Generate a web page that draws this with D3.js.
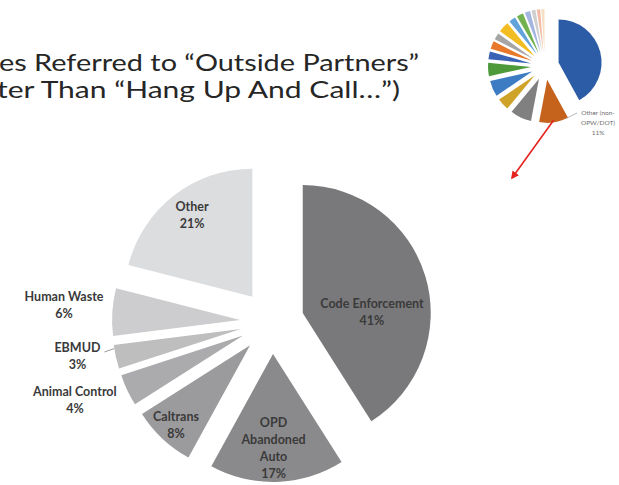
<!DOCTYPE html>
<html>
<head>
<meta charset="utf-8">
<script src="https://cdn.jsdelivr.net/npm/d3@7"></script>
<style>
  html, body { margin: 0; padding: 0; background: #fff; overflow: hidden; }
  svg { display: block; }
</style>
</head>
<body>
<svg id="chart" width="619" height="485"></svg>
<script>
// main pie: where referred cases went
var categories = ["Code Enforcement", "OPD\nAbandoned\nAuto", "Caltrans", "Animal Control", "EBMUD", "Human Waste", "Other"];
var shares = [41, 17, 8, 4, 3, 6, 21];
var greys = ["#79797b", "#8a8a8c", "#9b9b9d", "#ababad", "#bebebf", "#cdcdcf", "#dcdddf"];

// label placement (angle in degrees clockwise from 12 o'clock, distance from pie centre)
var labelAngle = [84.2, 179.3, 222.9, 248.4, 260.1, 274.7, 323.3];
var labelRadius = [100.5, 126, 141, 212, 197.5, 208.7, 133.8];

// small inset pie (top right), all referral types
var insetShares = [42, 11, 8, 4.5, 6, 5, 3, 3, 2.5, 4, 2.5, 2.5, 2, 1.5, 1.3, 1.2];
var insetColors = ["#2d5ca6", "#c5621c", "#808080", "#cfa228", "#3d7cc2", "#4e9a3a", "#3a62b5", "#e8782a",
                   "#a5a5a5", "#f2bd22", "#62a3dc", "#72b24e", "#a3b5e0", "#cfcfcf", "#f3bca6", "#f6dfc4"];
var insetLabel = ["Other (non-", "OPW/DOT)", "11%"];

var titleLines = ["es Referred to \u201cOutside Partners\u201d", "ter Than \u201cHang Up And Call\u2026\u201d)"];

var svg = d3.select("#chart");

// title (cut off at the left edge like the slide)
svg.append("g")
  .selectAll("text")
  .data(titleLines)
  .join("text")
    .attr("x", (d, i) => i == 0 ? -1 : -3)
    .attr("y", (d, i) => 71 + i * 27)
    .attr("textLength", (d, i) => i == 0 ? 420 : 403)
    .attr("lengthAdjust", "spacingAndGlyphs")
    .style("font", "24px Lato, 'Open Sans', sans-serif")
    .style("fill", "#262626")
    .text(d => d);

// ---------- main pie ----------
var cx = 272, cy = 322, radius = 128, explode = 32;
var rad = Math.PI / 180;

var pie = d3.pie().sort(null).value(d => d);
var arcs = pie(shares);
var arc = d3.arc().innerRadius(0).outerRadius(radius);

function offset(a, dist) {
  var mid = (a.startAngle + a.endAngle) / 2;
  return [dist * Math.sin(mid), -dist * Math.cos(mid)];
}

var main = svg.append("g").attr("transform", "translate(" + cx + "," + cy + ")");

main.selectAll("path")
  .data(arcs)
  .join("path")
    .attr("d", arc)
    .attr("fill", (d, i) => greys[i])
    .attr("transform", d => "translate(" + offset(d, explode) + ")");

// leader for EBMUD
var eb = arcs[4];
var ebOff = offset(eb, explode);
var ebAng = eb.startAngle + (eb.endAngle - eb.startAngle) * 0.85;
var ebLabelR = labelRadius[4], ebLabelA = labelAngle[4] * rad;
main.append("line")
  .attr("x1", ebLabelR * Math.sin(ebLabelA) + 27)
  .attr("y1", -ebLabelR * Math.cos(ebLabelA) - 4)
  .attr("x2", ebOff[0] + radius * Math.sin(ebAng))
  .attr("y2", ebOff[1] - radius * Math.cos(ebAng))
  .attr("stroke", "#7f7f7f")
  .attr("stroke-width", 0.8);

var lineH = 17.2;
var labels = main.selectAll("g.lbl")
  .data(arcs)
  .join("g")
    .attr("class", "lbl")
    .attr("transform", (d, i) => "translate(" + (labelRadius[i] * Math.sin(labelAngle[i] * rad)) + "," +
                                  (-labelRadius[i] * Math.cos(labelAngle[i] * rad)) + ")");

labels.each(function(d, i) {
  var lines = categories[i].split("\n").concat([shares[i] + "%"]);
  var y0 = -(lines.length - 1) * lineH / 2 + 4.5;
  d3.select(this).selectAll("text")
    .data(lines)
    .join("text")
      .attr("x", 0)
      .attr("y", (t, j) => y0 + j * lineH)
      .style("font", "bold 12.5px Lato, 'Open Sans', sans-serif")
      .style("fill", "#3a3a3a")
      .style("text-anchor", "middle")
      .text(t => t);
});

// ---------- inset pie ----------
var icx = 545, icy = 66, iradius = 43, iexplode = 14;
var iarcs = pie(insetShares);
var iarc = d3.arc().innerRadius(0).outerRadius(iradius);

var inset = svg.append("g").attr("transform", "translate(" + icx + "," + icy + ")");
inset.selectAll("path")
  .data(iarcs)
  .join("path")
    .attr("d", iarc)
    .attr("fill", (d, i) => insetColors[i])
    .attr("transform", d => "translate(" + offset(d, iexplode) + ")");

// label for the orange slice
var ora = iarcs[1];
var oOff = offset(ora, iexplode);
var oEdge = ora.startAngle + 0.1 * (ora.endAngle - ora.startAngle);
inset.append("line")
  .attr("x1", oOff[0] + iradius * Math.sin(oEdge))
  .attr("y1", oOff[1] - iradius * Math.cos(oEdge))
  .attr("x2", 32)
  .attr("y2", 47)
  .attr("stroke", "#8c8c8c")
  .attr("stroke-width", 0.6);

inset.append("g")
  .selectAll("text")
  .data(insetLabel)
  .join("text")
    .attr("x", 53)
    .attr("y", (d, i) => 49 + i * 10)
    .style("font", "6.5px Lato, 'Open Sans', sans-serif")
    .style("fill", "#6f6f6f")
    .style("text-anchor", "middle")
    .text(d => d);

// red arrow from the orange slice down to the main chart
var oMid = (ora.startAngle + ora.endAngle) / 2;
var ax1 = icx + oOff[0] + (iradius - 2) * Math.sin(oMid);
var ay1 = icy + oOff[1] - (iradius - 2) * Math.cos(oMid);
var ax2 = 512, ay2 = 178;

svg.append("defs").append("marker")
  .attr("id", "head")
  .attr("viewBox", "0 0 10 10")
  .attr("refX", 8)
  .attr("refY", 5)
  .attr("markerWidth", 5)
  .attr("markerHeight", 5)
  .attr("orient", "auto")
  .append("path")
    .attr("d", "M0,0L10,5L0,10z")
    .attr("fill", "#e5221d");

svg.append("line")
  .attr("x1", ax1)
  .attr("y1", ay1)
  .attr("x2", ax2)
  .attr("y2", ay2)
  .attr("stroke", "#e5221d")
  .attr("stroke-width", 1.6)
  .attr("marker-end", "url(#head)");
</script>
</body>
</html>
